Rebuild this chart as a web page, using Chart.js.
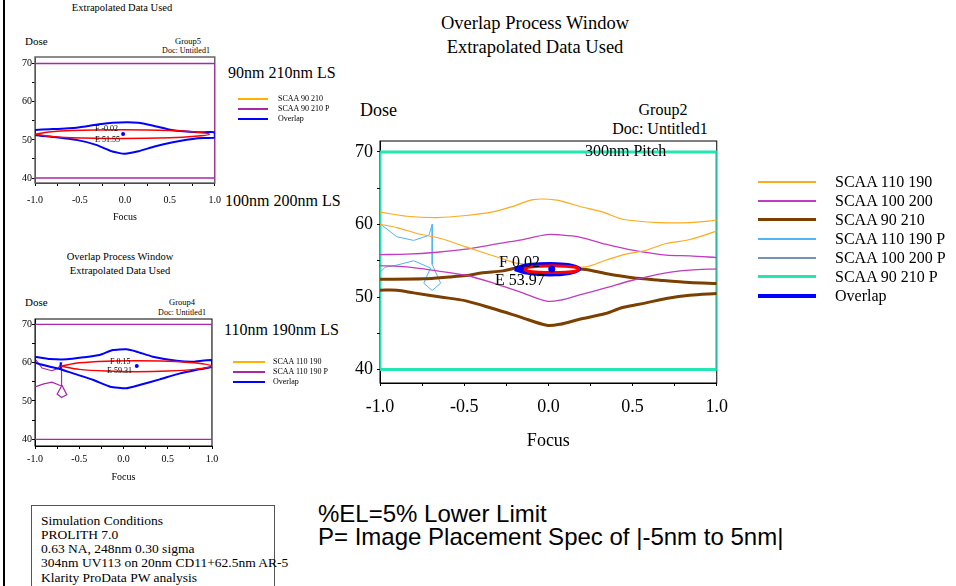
<!DOCTYPE html>
<html>
<head>
<meta charset="utf-8">
<title>Overlap Process Window</title>
<script src="https://cdn.jsdelivr.net/npm/chart.js@4.4.1/dist/chart.umd.min.js"></script>
<style>
  body { margin: 0; width: 956px; height: 586px; position: relative; overflow: hidden; background: #fff;
         font-family: "Liberation Serif", "Times New Roman", serif; color: #000; }
  canvas { position: absolute; }
  .t { position: absolute; line-height: 1; white-space: nowrap; }
  .c { transform: translateX(-50%); }
  .sans { font-family: "Liberation Sans", Arial, sans-serif; }
  #sim { position: absolute; left: 31px; top: 505px; width: 242px; height: 100px; border: 1px solid #555; }
  #sim div { position: absolute; left: 9px; font-size: 13.5px; line-height: 1; white-space: nowrap; }
  #edge { position: absolute; left: 3px; top: 0; width: 2px; height: 586px; background: #000; }
</style>
</head>
<body>
<div id="edge"></div>

<!-- Group5 -->
<div class="t c" style="left:122px;top:-10px;font-size:10.5px">Overlap Process Window</div>
<div class="t c" style="left:122px;top:3px;font-size:10.5px">Extrapolated Data Used</div>
<div class="t" style="left:25px;top:36px;font-size:11px">Dose</div>
<div class="t c" style="left:188px;top:37px;font-size:8.5px">Group5</div>
<div class="t c" style="left:186px;top:47px;font-size:8px">Doc: Untitled1</div>
<div class="t" style="left:228px;top:65px;font-size:16px">90nm 210nm LS</div>
<div class="t" style="left:225px;top:193px;font-size:16px">100nm 200nm LS</div>
<canvas id="g5" width="219" height="178" style="left:10px;top:47px"></canvas>
<div class="t" style="left:95px;top:125px;font-size:8px">F -0.02</div>
<div class="t" style="left:95px;top:136px;font-size:8px">E 51.55</div>

<!-- Group4 -->
<div class="t c" style="left:120px;top:252px;font-size:10.5px">Overlap Process Window</div>
<div class="t c" style="left:120px;top:266px;font-size:10.5px">Extrapolated Data Used</div>
<div class="t" style="left:25px;top:297px;font-size:11px">Dose</div>
<div class="t c" style="left:182px;top:298px;font-size:8.5px">Group4</div>
<div class="t c" style="left:182px;top:309px;font-size:8px">Doc: Untitled1</div>
<div class="t" style="left:224px;top:322px;font-size:16px">110nm 190nm LS</div>
<canvas id="g4" width="214" height="176" style="left:10px;top:309px"></canvas>
<div class="t" style="left:110px;top:358px;font-size:8px">F 0.15</div>
<div class="t" style="left:107px;top:367px;font-size:8px">E 59.31</div>

<!-- Group2 -->
<div class="t c" style="left:535px;top:14px;font-size:18.5px">Overlap Process Window</div>
<div class="t c" style="left:535px;top:38px;font-size:18.5px">Extrapolated Data Used</div>
<div class="t" style="left:360px;top:101px;font-size:18px">Dose</div>
<div class="t c" style="left:663px;top:102px;font-size:16px">Group2</div>
<div class="t c" style="left:660px;top:121px;font-size:16px">Doc: Untitled1</div>
<canvas id="g2" width="403" height="329" style="left:335px;top:125px"></canvas>
<div class="t" style="left:585px;top:143px;font-size:16px">300nm Pitch</div>
<div class="t" style="left:499px;top:254px;font-size:16px">F 0.02</div>
<div class="t" style="left:495px;top:272px;font-size:16px">E 53.97</div>

<div id="sim">
  <div style="top:8px">Simulation Conditions</div>
  <div style="top:22px">PROLITH 7.0</div>
  <div style="top:36px">0.63 NA, 248nm 0.30 sigma</div>
  <div style="top:50px">304nm UV113 on 20nm CD11+62.5nm AR-5</div>
  <div style="top:65px">Klarity ProData PW analysis</div>
</div>
<div class="t sans" style="left:318px;top:502px;font-size:24px">%EL=5% Lower Limit</div>
<div class="t sans" style="left:318px;top:525px;font-size:24px">P= Image Placement Spec of |-5nm to 5nm|</div>

<script>
// tick labels
const focusLabels = [-1.0, -0.5, 0.0, 0.5, 1.0];
const doseLabels = [40, 50, 60, 70];

// spec box used by every "P" window (focus, dose)
const specBox = [[-1, 40], [1, 40], [1, 70], [-1, 70], [-1, 40]];

// Group2, 300nm pitch
const g2_110_190_hi = [[-1, 61.7], [-0.84, 61.13], [-0.66, 60.95], [-0.49, 61.23], [-0.33, 61.73], [-0.21, 62.5], [-0.09, 63.43], [0.05, 63.34], [0.2, 62.4], [0.32, 61.73], [0.44, 60.72], [0.66, 60.26], [0.84, 60.26], [1, 60.58]];
const g2_110_190_lo = [[-1, 60.03], [-0.9, 59.57], [-0.78, 58.75], [-0.64, 58.06], [-0.49, 56.9], [-0.37, 56.0], [-0.25, 55.1], [-0.19, 54.66], [0.0, 54.2], [0.22, 54.15], [0.34, 55.07], [0.46, 55.9], [0.58, 56.45], [0.7, 57.37], [0.84, 57.92], [1, 59.07]];
const g2_100_200_hi = [[-1, 55.85], [-0.84, 55.9], [-0.66, 56.17], [-0.49, 56.59], [-0.33, 57.23], [-0.17, 57.83], [-0.01, 58.6], [0.07, 58.56], [0.18, 58.3], [0.34, 57.28], [0.5, 56.45], [0.7, 55.76], [0.84, 55.67], [1, 55.44]];
const g2_100_200_lo = [[-1, 54.33], [-0.84, 54.15], [-0.66, 53.6], [-0.49, 53.0], [-0.33, 51.95], [-0.17, 50.7], [-0.01, 49.42], [0.07, 49.56], [0.18, 50.25], [0.34, 51.26], [0.5, 52.31], [0.7, 53.33], [0.84, 53.7], [1, 53.88]];
const g2_90_210_hi = [[-1, 52.45], [-0.74, 52.5], [-0.59, 52.75], [-0.49, 52.95], [-0.39, 53.33], [-0.27, 53.6], [-0.17, 54.1], [0, 54.2], [0.22, 53.8], [0.34, 53.23], [0.5, 52.64], [0.66, 52.31], [0.84, 51.99], [1, 51.85]];
const g2_90_210_lo = [[-1, 50.94], [-0.9, 50.94], [-0.8, 50.57], [-0.64, 50.0], [-0.49, 49.47], [-0.33, 48.41], [-0.17, 47.26], [-0.01, 46.1], [0.07, 46.25], [0.18, 46.9], [0.34, 47.72], [0.44, 48.55], [0.58, 49.19], [0.7, 49.79], [0.84, 50.25], [1, 50.48]];
const g2_110_190_p = [[-1, 60.1], [-0.9, 58.3], [-0.8, 57.8], [-0.71, 58.5], [-0.69, 60.0], [-0.69, 54.5], [-0.64, 51.9], [-0.69, 50.9], [-0.74, 51.9], [-0.7, 54.0], [-0.8, 55.0], [-0.9, 54.4], [-0.97, 54.1], [-1, 53.4]];
const g2_100_200_p = [];
const g2_overlap = [[-0.2, 53.85], [-0.14, 54.3], [-0.05, 54.5], [0.05, 54.52], [0.13, 54.35], [0.185, 53.9], [0.13, 53.35], [0.04, 53.12], [-0.06, 53.17], [-0.14, 53.42], [-0.2, 53.85]];
const g2_window = [[-0.145, 53.83], [-0.12, 54.1], [-0.05, 54.25], [0.02, 54.3], [0.1, 54.25], [0.16, 54.1], [0.18, 53.83], [0.16, 53.56], [0.1, 53.41], [0.02, 53.37], [-0.05, 53.41], [-0.12, 53.56], [-0.145, 53.83]];
const g2_centre = [[0.02, 53.85]];

// Group5, 90nm 210nm LS
const g5_90_210 = [];
const g5_overlap = [[-1, 52.6], [-0.84, 52.78], [-0.54, 53.2], [-0.29, 54.1], [-0.14, 54.5], [0.15, 54.5], [0.33, 53.65], [0.52, 52.6], [0.81, 52.0], [1, 52.0], [1, 50.6], [0.81, 50.43], [0.52, 49.3], [0.33, 48.26], [0.15, 47.0], [0, 46.35], [-0.14, 46.96], [-0.32, 48.7], [-0.54, 50.0], [-0.84, 50.87], [-1, 51.3], [-1, 52.6]];
const g5_window = [[-1, 51.5], [-0.85, 52.05], [-0.6, 52.45], [-0.03, 52.63], [0.5, 52.45], [0.78, 52.05], [0.94, 51.5], [0.78, 50.95], [0.5, 50.55], [-0.03, 50.37], [-0.6, 50.55], [-0.85, 50.95], [-1, 51.5]];
const g5_centre = [[-0.02, 51.55]];

// Group4, 110nm 190nm LS
const g4_110_190 = [];
const g4_110_190_p = [[-1, 61.0], [-0.92, 58.6], [-0.81, 57.9], [-0.74, 58.5], [-0.7, 59.8], [-0.7, 54.3], [-0.64, 51.6], [-0.7, 50.9], [-0.75, 51.8], [-0.7, 53.9], [-0.81, 54.9], [-0.91, 54.4], [-1, 53.7]];
const g4_overlap = [[-1, 61.57], [-0.83, 60.96], [-0.64, 60.87], [-0.45, 61.39], [-0.27, 62.0], [-0.12, 63.3], [0.03, 63.48], [0.15, 62.87], [0.33, 61.57], [0.6, 60.52], [0.79, 60.26], [1, 60.7], [1, 58.96], [0.86, 58.26], [0.64, 57.2], [0.41, 55.65], [0.18, 54.17], [0.03, 53.3], [-0.15, 53.74], [-0.34, 55.48], [-0.57, 57.2], [-0.72, 58.35], [-0.83, 58.96], [-1, 60.0], [-1, 61.57]];
const g4_stub = [[-0.71, 60.1], [-0.71, 58.3]];
const g4_window = [[-0.71, 59.1], [-0.5, 59.95], [-0.2, 60.4], [0.15, 60.52], [0.5, 60.4], [0.8, 59.95], [1.0, 59.1], [0.8, 58.25], [0.5, 57.8], [0.15, 57.65], [-0.2, 57.8], [-0.5, 58.25], [-0.71, 59.1]];
const g4_centre = [[0.15, 59.13]];

const serif = '"Liberation Serif", "Times New Roman", serif';

const xy = pts => pts.map(p => p ? { x: p[0], y: p[1] } : { x: null, y: null });
// join curve pieces with a gap between them
const join = (...parts) => parts.reduce((a, p) => a.length ? a.concat([null], p) : p.slice(), []);

function ds(label, pts, color, width, extra) {
    return Object.assign({
        label: label, data: xy(pts), borderColor: color, backgroundColor: color,
        borderWidth: width, showLine: true, pointRadius: 0, tension: 0, fill: false
    }, extra || {});
}

function dot(pts, r) {
    return { label: 'centre', data: xy(pts), showLine: false, pointRadius: r, pointBorderWidth: 0,
             pointBackgroundColor: '#0000ff', backgroundColor: '#0000ff', order: -3, noLegend: true };
}

const near = (a, b) => Math.abs(a - b) < 1e-6;

// box around the plot
const framePlugin = {
    id: 'frame',
    beforeDatasetsDraw(chart, args, opts) {
        const a = chart.chartArea, ctx = chart.ctx;
        ctx.save();
        ctx.strokeStyle = opts.color || '#000';
        ctx.lineWidth = opts.width || 1;
        ctx.strokeRect(a.left, a.top, a.right - a.left, a.bottom - a.top);
        ctx.restore();
    }
};

function opts(o) {
    return {
        responsive: false,
        animation: false,
        layout: { padding: o.pad },
        plugins: {
            legend: { display: false },
            tooltip: { enabled: false },
            frame: { color: o.frame, width: o.frameW }
        },
        scales: {
            x: {
                type: 'linear', min: -1, max: 1,
                afterFit: s => { s.height = o.xh; },
                ticks: {
                    stepSize: 0.25, autoSkip: false, maxRotation: 0, padding: o.xPad, color: '#000',
                    font: { family: serif, size: o.tick },
                    callback: v => focusLabels.some(f => near(f, v)) ? v.toFixed(1) : ''
                },
                grid: { drawOnChartArea: false, tickLength: 3, color: '#000' },
                border: { color: '#000' },
                title: { display: true, text: 'Focus', color: '#000', padding: 0, font: { family: serif, size: o.titleSize } }
            },
            y: {
                type: 'linear', min: o.yMin, max: o.yMax,
                afterFit: s => { s.width = o.yw; },
                ticks: {
                    stepSize: 5, includeBounds: false, padding: o.yPad, color: '#000',
                    font: { family: serif, size: o.tick },
                    callback: v => doseLabels.some(d => near(d, v)) ? String(Math.round(v)) : ''
                },
                grid: { drawOnChartArea: false, tickLength: 3, color: '#000' },
                border: { color: '#000' }
            }
        }
    };
}

function legend(chart, box) {
    chart.data.datasets.filter(d => !d.noLegend).forEach((d, i) => {
        const y = box.y0 + i * box.dy;
        const w = Math.max(Math.round(d.borderWidth), 2);
        const sw = document.createElement('div');
        sw.style.cssText = `position:absolute;left:${box.x0}px;top:${Math.round(y - w / 2)}px;width:${box.len}px;height:${w}px;background:${d.borderColor}`;
        const tx = document.createElement('div');
        tx.className = 't';
        tx.textContent = d.label;
        tx.style.cssText += `left:${box.tx}px;top:${y - box.font / 2}px;font-size:${box.font}px`;
        document.body.append(sw, tx);
    });
}

// Group2 (big one)
let chartG2 = new Chart(document.getElementById('g2'), {
    type: 'scatter',
    data: {
        datasets: [
            ds('SCAA 110 190', join(g2_110_190_hi, g2_110_190_lo), '#ffaa1e', 1.2, { tension: 0.3 }),
            ds('SCAA 100 200', join(g2_100_200_hi, g2_100_200_lo), '#c03cc0', 1.3, { tension: 0.3 }),
            ds('SCAA 90 210', join(g2_90_210_hi, g2_90_210_lo), '#7b3f00', 3, { tension: 0.3 }),
            ds('SCAA 110 190 P', g2_110_190_p, '#50b4f5', 1),
            ds('SCAA 100 200 P', g2_100_200_p, '#7393b3', 2),
            ds('SCAA 90 210 P', specBox, '#22e6b4', 3),
            ds('Overlap', g2_overlap, '#0000ff', 4, { tension: 0.3, fill: 'shape', backgroundColor: '#0000ff', order: -1 }),
            ds('window', g2_window, '#ff0000', 3, { tension: 0.3, fill: 'shape', backgroundColor: '#ffffff', order: -2, noLegend: true }),
            dot(g2_centre, 3.5)
        ]
    },
    options: opts({ yMin: 38.15, yMax: 71.5, pad: { top: 16, right: 20, bottom: 2, left: 0 }, yw: 45, xh: 69,
                    tick: 18, titleSize: 18, xPad: 10, yPad: 4, frame: '#000', frameW: 1 }),
    plugins: [framePlugin]
});
legend(chartG2, { x0: 758, len: 58, tx: 835, y0: 181.7, dy: 19.05, font: 16 });

// Group5
let chartG5 = new Chart(document.getElementById('g5'), {
    type: 'scatter',
    data: {
        datasets: [
            ds('SCAA 90 210', g5_90_210, '#ffb000', 1),
            ds('SCAA 90 210 P', specBox, '#a828a8', 1.5),
            ds('Overlap', g5_overlap, '#0000ff', 2, { tension: 0.15, order: -1 }),
            ds('window', g5_window, '#ff0000', 1.5, { tension: 0.3, order: -2, noLegend: true }),
            dot(g5_centre, 2)
        ]
    },
    options: opts({ yMin: 38.7, yMax: 71.72, pad: { top: 10, right: 12, bottom: 2, left: 0 }, yw: 25, xh: 40,
                    tick: 10, titleSize: 10, xPad: 8, yPad: 0, frame: '#666', frameW: 1.5 }),
    plugins: [framePlugin]
});
legend(chartG5, { x0: 238, len: 30, tx: 278, y0: 99, dy: 10, font: 8 });

// Group4
let chartG4 = new Chart(document.getElementById('g4'), {
    type: 'scatter',
    data: {
        datasets: [
            ds('SCAA 110 190', g4_110_190, '#ffb000', 1),
            ds('SCAA 110 190 P', join(specBox, g4_110_190_p), '#a828a8', 1.2),
            ds('Overlap', join(g4_overlap, g4_stub), '#0000ff', 2, { tension: 0.15, order: -1 }),
            ds('window', g4_window, '#ff0000', 1.5, { tension: 0.3, order: -2, noLegend: true }),
            dot(g4_centre, 2)
        ]
    },
    options: opts({ yMin: 38.25, yMax: 71.4, pad: { top: 10, right: 12, bottom: 2, left: 0 }, yw: 25, xh: 37,
                    tick: 10, titleSize: 10, xPad: 4, yPad: 0, frame: '#000', frameW: 1 }),
    plugins: [framePlugin]
});
legend(chartG4, { x0: 233, len: 32, tx: 273, y0: 362, dy: 10, font: 8 });
</script>
</body>
</html>
